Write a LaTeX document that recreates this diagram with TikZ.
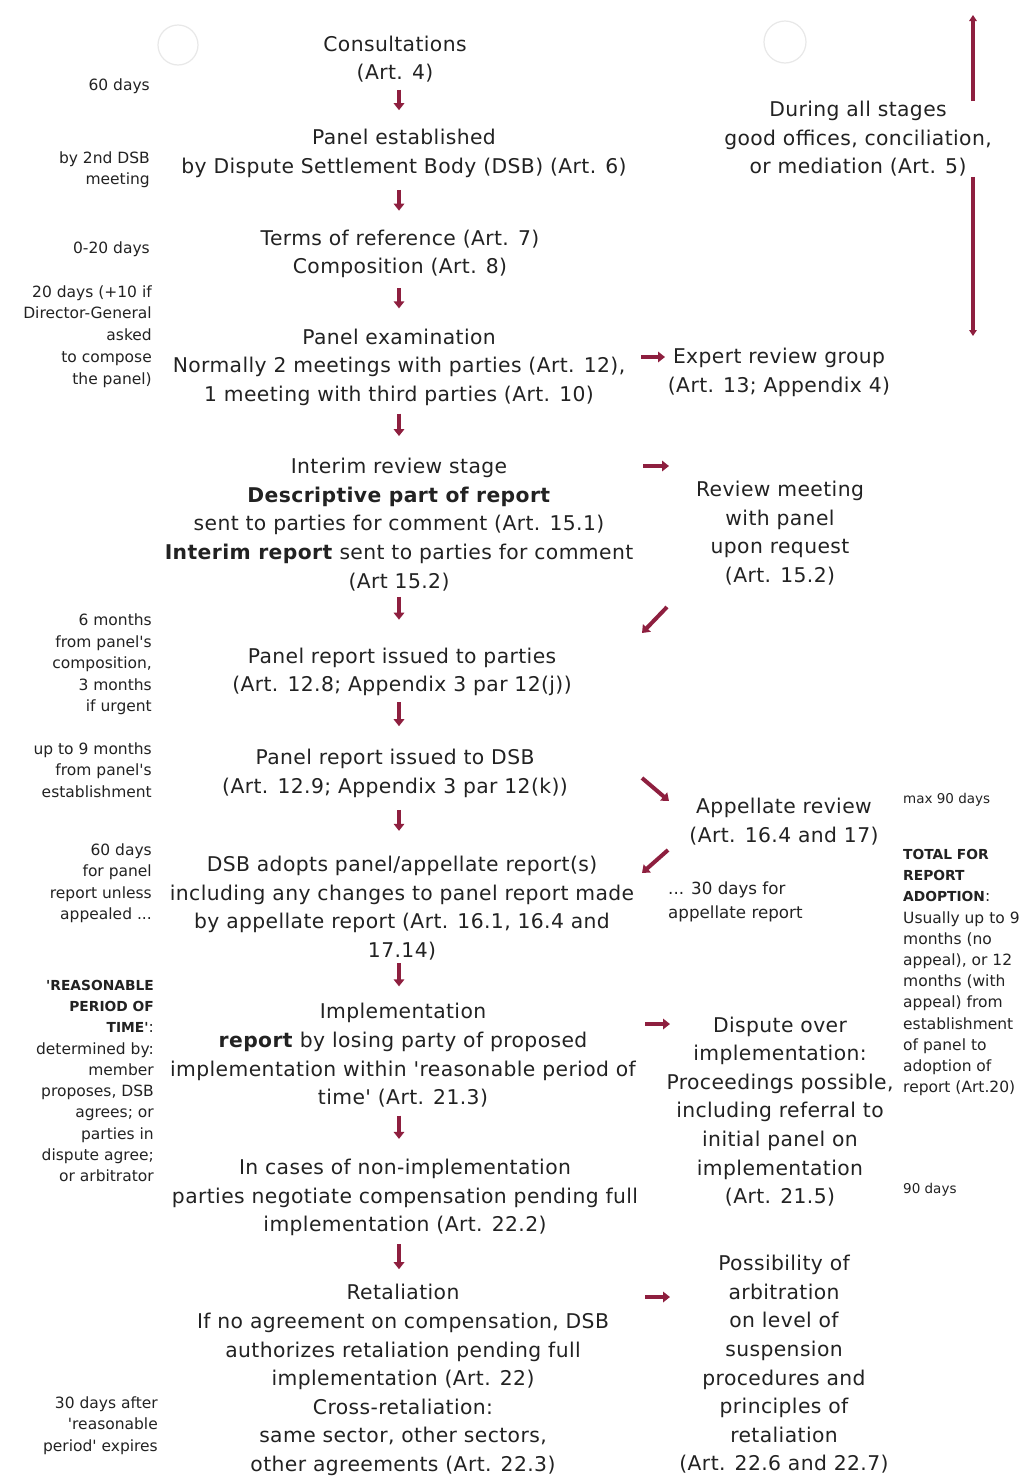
\documentclass[tikz,border=0pt]{standalone}
\usepackage{fontspec}
\setmainfont{DejaVu Sans}
\newfontfamily\mainsp{DejaVu Sans}[LetterSpace=2.0]
\newfontfamily\notef{DejaVu Sans}
\usetikzlibrary{arrows.meta}
\definecolor{wred}{HTML}{8E1F3F}
\definecolor{ink}{HTML}{222222}
\newcommand\smallbf[1]{{\fontsize{13.8}{21.3}\selectfont\bfseries #1}}
\begin{document}
\begin{tikzpicture}[x=1pt,y=-1pt,
  main/.style={align=center,inner sep=0pt,text=ink,font=\mainsp\fontsize{20.3}{28.6}\selectfont},
  noteR/.style={align=right,anchor=east,inner sep=0pt,text=ink,font=\notef\fontsize{15.5}{21.5}\selectfont},
  noteL/.style={align=left,anchor=west,inner sep=0pt,text=ink,font=\notef\fontsize{15.5}{21.2}\selectfont},
  rarr/.style={wred,line width=4pt,-{Triangle[width=10.5pt,length=7pt]}},
  dn/.style 2 args={rarr,shorten <=#1pt,shorten >=#2pt},
  varr/.style={wred,line width=3.5pt,-{Triangle[width=7.5pt,length=6pt]}},
  hole/.style={black!9,line width=1.2pt}
]
\useasboundingbox (0,0) rectangle (1026,1478);
\fill[white] (0,0) rectangle (1026,1478);

% faint punch holes of the scan
\draw[hole] (178,45) circle[radius=20pt];
\draw[hole] (785,42) circle[radius=21pt];

\coordinate (colx) at (399,0);

% main column
\node[main] (cons) at (395,59) {Consultations\\(Art. 4)};
\node[main] (estab) at (404,153.5) {Panel established\\by Dispute Settlement Body (DSB) (Art. 6)};
\node[main] (terms) at (400,254) {Terms of reference (Art. 7)\\Composition (Art. 8)};
\node[main] (exam) at (399,367) {Panel examination\\Normally 2 meetings with parties (Art. 12),\\1 meeting with third parties (Art. 10)};
\node[main] (interim) at (399,524.5) {Interim review stage\\\textbf{Descriptive part of report}\\sent to parties for comment (Art. 15.1)\\\textbf{Interim report} sent to parties for comment\\(Art 15.2)};
\node[main] (prep) at (402,672) {Panel report issued to parties\\(Art. 12.8; Appendix 3 par 12(j))};
\node[main] (pdsb) at (395,773.5) {Panel report issued to DSB\\(Art. 12.9; Appendix 3 par 12(k))};
\node[main] (adopt) at (402,908) {DSB adopts panel/appellate report(s)\\including any changes to panel report made\\by appellate report (Art. 16.1, 16.4 and\\17.14)};
\node[main] (impl) at (403,1055.5) {Implementation\\\textbf{report} by losing party of proposed\\implementation within 'reasonable period of\\time' (Art. 21.3)};
\node[main] (nonimpl) at (405,1197.5) {In cases of non-implementation\\parties negotiate compensation pending full\\implementation (Art. 22.2)};
\node[main] (retal) at (403,1380) {Retaliation\\If no agreement on compensation, DSB\\authorizes retaliation pending full\\implementation (Art. 22)\\Cross-retaliation:\\same sector, other sectors,\\other agreements (Art. 22.3)};

% right column
\node[main] (during) at (858,139) {During all stages\\good offices, conciliation,\\or mediation (Art. 5)};
\node[main] (expert) at (779,372.5) {Expert review group\\(Art. 13; Appendix 4)};
\node[main] (review) at (780,533) {Review meeting\\with panel\\upon request\\(Art. 15.2)};
\node[main] (appel) at (784,821.5) {Appellate review\\(Art. 16.4 and 17)};
\node[noteL,font=\notef\fontsize{16.7}{24}\selectfont] (thirty) at (668,902) {... 30 days for\\appellate report};
\node[main] (dispute) at (780,1111.5) {Dispute over\\implementation:\\Proceedings possible,\\including referral to\\initial panel on\\implementation\\(Art. 21.5)};
\node[main] (poss) at (784,1364.5) {Possibility of\\arbitration\\on level of\\suspension\\procedures and\\principles of\\retaliation\\(Art. 22.6 and 22.7)};

% far right notes
\node[noteL,font=\notef\fontsize{13.5}{21}\selectfont] (max90) at (903,800) {max 90 days};
\node[noteL] (total) at (903,972.5) {\smallbf{TOTAL FOR}\\\smallbf{REPORT}\\\smallbf{ADOPTION}:\\Usually up to 9\\months (no\\appeal), or 12\\months (with\\appeal) from\\establishment\\of panel to\\adoption of\\report (Art.20)};
\node[noteL,font=\notef\fontsize{13.5}{21}\selectfont] (d90) at (903,1190) {90 days};

% left notes
\node[noteR] (n1) at (150,86) {60 days};
\node[noteR] (n2) at (150,169.5) {by 2nd DSB\\meeting};
\node[noteR] (n3) at (150,249) {0-20 days};
\node[noteR,font=\notef\fontsize{15.5}{21.8}\selectfont] (n4) at (152,336.5) {20 days (+10 if\\Director-General\\asked\\to compose\\the panel)};
\node[noteR] (n5) at (152,664.5) {6 months\\from panel's\\composition,\\3 months\\if urgent};
\node[noteR] (n6) at (152,770) {up to 9 months\\from panel's\\establishment};
\node[noteR] (n7) at (152,883) {60 days\\for panel\\report unless\\appealed ...};
\node[noteR,font=\notef\fontsize{15.5}{21.3}\selectfont] (n8) at (154,1081) {\smallbf{'REASONABLE}\\\smallbf{PERIOD OF}\\\smallbf{TIME'}:\\determined by:\\member\\proposes, DSB\\agrees; or\\parties in\\dispute agree;\\or arbitrator};
\node[noteR] (n9) at (158,1425.5) {30 days after\\'reasonable\\period' expires};

% down arrows of the main column
\draw[dn={7}{19}] (cons.south -| colx) -- (estab.north -| colx);
\draw[dn={12}{19}] (estab.south -| colx) -- (terms.north -| colx);
\draw[dn={10}{20}] (terms.south -| colx) -- (exam.north -| colx);
\draw[dn={8}{22}] (exam.south -| colx) -- (interim.north -| colx);
\draw[dn={6}{28}] (interim.south -| colx) -- (prep.north -| colx);
\draw[dn={6}{23}] (prep.south -| colx) -- (pdsb.north -| colx);
\draw[dn={12}{25}] (pdsb.south -| colx) -- (adopt.north -| colx);
\draw[dn={3}{17}] (adopt.south -| colx) -- (impl.north -| colx);
\draw[dn={8}{20}] (impl.south -| colx) -- (nonimpl.north -| colx);
\draw[dn={8}{15}] (nonimpl.south -| colx) -- (retal.north -| colx);

% side arrows
\coordinate (r1a) at (641,357); \coordinate (r1b) at (665,357);
\coordinate (r2a) at (643,466); \coordinate (r2b) at (669,466);
\coordinate (r3a) at (667,607); \coordinate (r3b) at (642,633);
\coordinate (r4a) at (642,778); \coordinate (r4b) at (669,801);
\coordinate (r5a) at (668,850); \coordinate (r5b) at (642,873);
\coordinate (r6a) at (645,1024); \coordinate (r6b) at (670,1024);
\coordinate (r7a) at (645,1297); \coordinate (r7b) at (670,1297);
\draw[rarr] (r1a) -- (r1b);
\draw[rarr] (r2a) -- (r2b);
\draw[rarr] (r3a) -- (r3b);
\draw[rarr] (r4a) -- (r4b);
\draw[rarr] (r5a) -- (r5b);
\draw[rarr] (r6a) -- (r6b);
\draw[rarr] (r7a) -- (r7b);

% "during all stages" vertical arrows
\coordinate (vtop) at (973,15);
\coordinate (vbot) at (973,336);
\draw[varr] (vtop |- during.north) -- (vtop);
\draw[varr] (vbot |- during.south) -- (vbot);
\end{tikzpicture}
\end{document}
